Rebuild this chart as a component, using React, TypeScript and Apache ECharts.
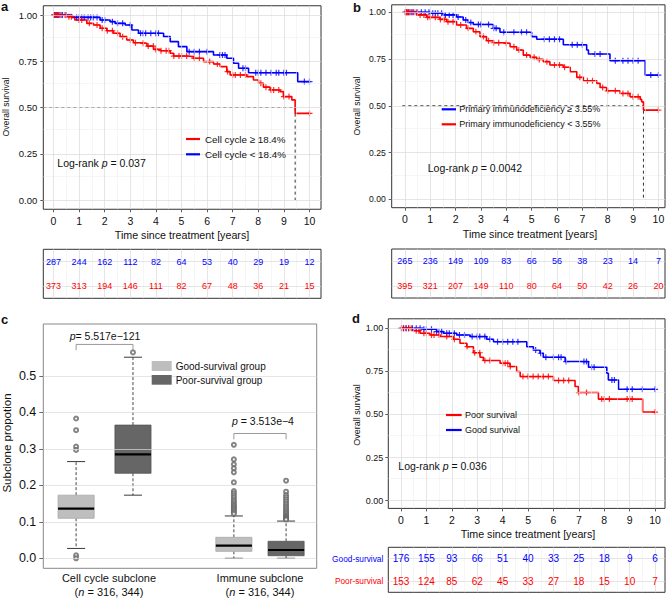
import React, { useEffect, useRef } from "react";
import * as echarts from "echarts";

const FONT = '"Liberation Sans", Arial, Helvetica, sans-serif';
const RED = "#FF0000";
const BLUE = "#0000FF";

// ---------- shared ticks ----------
const years = [0, 1, 2, 3, 4, 5, 6, 7, 8, 9, 10];
const halfYears = [0.5, 1.5, 2.5, 3.5, 4.5, 5.5, 6.5, 7.5, 8.5, 9.5];
const survTicks = [0, 0.25, 0.5, 0.75, 1];
const survMinor = [0.125, 0.375, 0.625, 0.875];

// ---------- panel a ----------
const aRedCurve: [number, number][] = [
  [0, 1], [0.52, 0.991], [0.83, 0.973], [1.3, 0.955], [1.56, 0.946], [1.82, 0.928], [2.08, 0.915],
  [2.34, 0.901], [2.6, 0.883], [2.86, 0.865], [3.12, 0.85], [3.39, 0.847], [3.65, 0.832], [3.91, 0.814],
  [4.17, 0.807], [4.56, 0.793], [4.69, 0.778], [5.21, 0.775], [5.47, 0.766], [5.86, 0.748], [6.25, 0.735],
  [6.51, 0.721], [6.77, 0.694], [6.9, 0.676], [7.55, 0.667], [7.81, 0.649], [8.01, 0.631], [8.2, 0.61],
  [8.46, 0.595], [8.85, 0.586], [8.98, 0.559], [9.31, 0.541], [9.44, 0.468], [10.03, 0.468],
];
const aBlueCurve: [number, number][] = [
  [0, 1], [0.72, 0.987], [1.82, 0.973], [2.21, 0.964], [2.41, 0.955], [2.8, 0.946], [3.06, 0.919],
  [3.32, 0.901], [4.3, 0.883], [4.56, 0.856], [4.88, 0.829], [5.21, 0.802], [6.25, 0.784], [6.77, 0.766],
  [7.03, 0.739], [7.23, 0.712], [7.62, 0.688], [9.54, 0.64], [10.03, 0.64],
];
const aRedCensor = [0.02, 0.06, 0.1, 0.14, 0.2, 0.3, 0.45, 0.6, 0.7, 1.0, 1.1, 1.4, 1.7, 1.9, 2.1, 2.3, 2.5, 2.7, 3.0, 3.2, 3.5, 3.7, 3.9, 4.0, 4.2, 4.4, 4.5, 4.7, 4.9, 5.0, 5.2, 5.5, 5.7, 6.1, 6.4, 6.8, 7.0, 7.1, 7.3, 7.5, 8.1, 8.3, 8.5, 8.6, 8.8, 9.0, 9.2, 10.0];
const aBlueCensor = [0.02, 0.06, 0.1, 0.14, 0.18, 0.25, 0.35, 0.5, 0.9, 1.0, 1.1, 1.2, 1.35, 1.45, 1.55, 1.7, 1.9, 2.0, 2.3, 2.5, 2.7, 3.0, 3.4, 3.5, 3.6, 3.8, 4.0, 4.1, 5.3, 5.5, 5.7, 6.0, 6.5, 6.6, 6.7, 7.4, 7.5, 7.9, 8.0, 8.1, 8.3, 8.5, 8.7, 8.8, 9.0, 9.1, 9.8, 10.0];
const aMedian = 9.44;
const aRiskBlue = [287, 244, 162, 112, 82, 64, 53, 40, 29, 19, 12];
const aRiskRed = [373, 313, 194, 146, 111, 82, 67, 48, 36, 21, 15];
const aLegend = ["Cell cycle \u2265 18.4%", "Cell cycle < 18.4%"];

// ---------- panel b ----------
const bBlueCurve: [number, number][] = [
  [0, 1], [0.99, 0.995], [1.51, 0.986], [2.04, 0.975], [2.3, 0.959], [2.5, 0.945], [2.7, 0.935],
  [3.49, 0.914], [3.75, 0.893], [5.0, 0.87], [5.2, 0.856], [6.25, 0.826], [7.17, 0.798], [7.24, 0.777],
  [8.09, 0.741], [9.48, 0.664], [10.0, 0.664],
];
const bRedCurve: [number, number][] = [
  [0, 1], [0.46, 0.986], [0.86, 0.973], [1.38, 0.962], [1.65, 0.95], [2.04, 0.932], [2.43, 0.914],
  [2.7, 0.896], [2.96, 0.87], [3.22, 0.848], [3.49, 0.837], [3.88, 0.834], [4.15, 0.816], [4.41, 0.798],
  [4.67, 0.771], [4.94, 0.759], [5.2, 0.748], [5.46, 0.736], [5.72, 0.718], [6.25, 0.706], [6.52, 0.682],
  [6.78, 0.652], [7.04, 0.634], [7.57, 0.62], [7.7, 0.598], [7.96, 0.58], [8.49, 0.566], [8.88, 0.548],
  [9.28, 0.534], [9.34, 0.521], [9.41, 0.477], [10.0, 0.477],
];
const bBlueCensor = [0.02, 0.08, 0.15, 0.25, 0.35, 0.5, 0.65, 0.8, 0.95, 1.1, 1.2, 1.3, 1.45, 1.6, 1.75, 1.9, 2.1, 2.4, 2.6, 2.9, 3.0, 3.3, 3.5, 3.6, 3.9, 4.3, 4.6, 4.8, 5.5, 5.7, 5.9, 6.1, 6.6, 6.8, 7.0, 7.5, 7.7, 8.3, 8.6, 8.8, 9.0, 9.2, 9.7, 10.0];
const bRedCensor = [0.02, 0.06, 0.1, 0.15, 0.2, 0.3, 0.45, 0.6, 0.75, 0.9, 1.0, 1.2, 1.4, 1.55, 1.7, 1.9, 2.2, 2.5, 2.8, 3.1, 3.3, 3.5, 3.7, 4.0, 4.3, 4.5, 4.8, 5.1, 5.3, 5.6, 5.9, 6.1, 6.3, 6.9, 7.2, 7.4, 7.8, 8.0, 8.3, 8.6, 8.8, 9.0, 9.2, 10.0];
const bMedian = 9.41;
const bRiskBlue = [265, 236, 149, 109, 83, 66, 56, 38, 23, 14, 7];
const bRiskRed = [395, 321, 207, 149, 110, 80, 64, 50, 42, 26, 20];
const bLegend = ["Primary immunodeficiency \u2265 3.55%", "Primary immunodeficiency < 3.55%"];

// ---------- panel c ----------
const cGroups = ["Cell cycle subclone", "Immune subclone"];
const cGroupN = "316, 344";
const cBoxPos = [1.2, 3.28, 6.97, 8.88];
const cBoxKind = ["good", "poor", "good", "poor"];
// [lower whisker, q1, median, q3, upper whisker]
const cStats = [
  [0.027, 0.1096, 0.136, 0.173, 0.265],
  [0.173, 0.233, 0.285, 0.365, 0.551],
  [0.0, 0.019, 0.0345, 0.0575, 0.116],
  [0.0, 0.007, 0.0227, 0.0466, 0.102],
];
const cOutliers = [
  [0.383, 0.351, 0.306, 0.297, 0.008, 0.0],
  [0.564],
  [0.311, 0.271, 0.2575, 0.2466, 0.2356, 0.208, 0.184, 0.178, 0.172, 0.166, 0.16, 0.155, 0.15, 0.146, 0.142, 0.138, 0.134, 0.13, 0.126, 0.122],
  [0.2126, 0.1825, 0.173, 0.167, 0.161, 0.155, 0.149, 0.143, 0.138, 0.133, 0.128, 0.124, 0.12, 0.116, 0.113, 0.11, 0.108, 0.106],
];
const cTicks = [0, 0.1, 0.2, 0.3, 0.4, 0.5];
const cBracketY = [0.586, 0.342];
const cPValues = ["5.517e\u2212121", "3.513e\u22124"];
const cLegend = ["Good-survival group", "Poor-survival group"];

// ---------- panel d ----------
const dBlueCurve: [number, number][] = [
  [0, 1], [0.88, 0.994], [1.4, 0.981], [1.67, 0.971], [2.19, 0.961], [2.72, 0.952], [3.37, 0.936],
  [3.64, 0.922], [4.95, 0.893], [5.21, 0.874], [5.47, 0.855], [5.6, 0.832], [6.46, 0.807], [7.38, 0.774],
  [8.1, 0.739], [8.16, 0.7], [8.56, 0.646], [10.0, 0.646],
];
const dRedCurve: [number, number][] = [
  [0, 1], [0.49, 0.986], [0.75, 0.971], [1.14, 0.961], [1.54, 0.952], [2.06, 0.936], [2.32, 0.913],
  [2.59, 0.893], [2.85, 0.858], [3.11, 0.832], [3.24, 0.813], [3.9, 0.797], [4.29, 0.778], [4.55, 0.749],
  [4.69, 0.72], [6.0, 0.697], [6.85, 0.662], [6.98, 0.627], [7.77, 0.589], [9.51, 0.514], [10.0, 0.514],
];
const dBlueCensor = [0.02, 0.1, 0.2, 0.3, 0.45, 0.6, 0.75, 0.9, 1.0, 1.2, 1.4, 1.5, 1.6, 1.8, 1.9, 2.1, 2.3, 2.5, 2.8, 3.0, 3.1, 3.3, 3.5, 3.8, 4.0, 4.2, 4.4, 4.6, 5.3, 5.5, 5.7, 6.0, 6.2, 6.3, 6.5, 7.2, 7.3, 7.5, 7.6, 8.3, 8.4, 8.9, 9.1, 9.5, 10.0];
const dRedCensor = [0.02, 0.1, 0.2, 0.3, 0.4, 0.6, 0.7, 0.9, 1.0, 1.2, 1.3, 1.5, 1.8, 2.1, 2.6, 2.9, 3.1, 3.3, 3.5, 4.0, 4.1, 4.2, 4.3, 4.8, 5.0, 5.2, 5.4, 5.6, 5.8, 6.2, 6.4, 6.6, 7.0, 7.3, 7.9, 8.0, 8.2, 8.9, 9.0, 9.1, 10.0];
const dRiskGood = [176, 155, 93, 66, 51, 40, 33, 25, 18, 9, 6];
const dRiskPoor = [153, 124, 85, 62, 45, 33, 27, 18, 15, 10, 7];
const dRows = ["Poor-survival", "Good-survival"];
const dLegend = ["Poor survival", "Good survival"];

const PLUS =
  "path://M-0.5,-2.5L0.5,-2.5L0.5,-0.5L2.5,-0.5L2.5,0.5L0.5,0.5L0.5,2.5L-0.5,2.5L-0.5,0.5L-2.5,0.5L-2.5,-0.5L-0.5,-0.5Z";

function stepAt(curve: [number, number][], t: number) {
  let s = curve[0][1];
  for (const [x, y] of curve) {
    if (x <= t) s = y;
    else break;
  }
  return s;
}

function gridLineSeries(idx: number, xs: number[], xsMinor: number[], ys: any[], ysMinor: number[]) {
  const major = { color: "#dadada", width: 0.7, type: "solid" };
  const minor = { color: "#ededed", width: 0.5, type: "solid" };
  const data: any[] = [];
  xsMinor.forEach((v) => data.push({ xAxis: v, lineStyle: minor }));
  ysMinor.forEach((v) => data.push({ yAxis: v, lineStyle: minor }));
  xs.forEach((v) => data.push({ xAxis: v, lineStyle: major }));
  ys.forEach((v) => data.push({ yAxis: v, lineStyle: major }));
  return {
    type: "line", xAxisIndex: idx, yAxisIndex: idx, data: [], symbol: "none", silent: true, z: 1,
    markLine: { silent: true, symbol: ["none", "none"], label: { show: false }, data },
  };
}

function kmSeries(idx: number, curve: [number, number][], color: string) {
  return {
    type: "line", xAxisIndex: idx, yAxisIndex: idx, step: "end", data: curve, symbol: "none",
    lineStyle: { color, width: 1.6 }, z: 3, silent: true,
  };
}

function censorSeries(idx: number, curve: [number, number][], times: number[], color: string) {
  return {
    type: "scatter", xAxisIndex: idx, yAxisIndex: idx, data: times.map((t) => [t, stepAt(curve, t)]),
    symbol: PLUS, symbolSize: 6, itemStyle: { color }, z: 4, silent: true,
  };
}

function medianSeries(idx: number, x0: number, med: number) {
  return {
    type: "line", xAxisIndex: idx, yAxisIndex: idx, data: [[x0, 0.5], [med, 0.5], [med, 0]], symbol: "none",
    lineStyle: { color: "#333", width: 1, type: [3, 3] }, z: 2, silent: true,
  };
}

function riskSeries(idx: number, row: string, values: number[], color: string, fontSize: number) {
  return {
    type: "scatter", xAxisIndex: idx, yAxisIndex: idx, data: years.map((y, i) => [y, row, values[i]]),
    symbol: "circle", symbolSize: 1, itemStyle: { color: "rgba(255,255,255,0)" }, silent: true, z: 5,
    label: {
      show: true, position: "inside", formatter: (p: any) => String(p.value[2]), color, fontSize, fontFamily: FONT,
      textBorderWidth: 0, textBorderColor: "transparent", opacity: 1,
    },
  };
}

function kmX(gi: number, min: number, max: number, fontSize: number, margin: number) {
  return {
    type: "value", gridIndex: gi, min, max,
    axisLine: { show: false, onZero: false }, splitLine: { show: false },
    axisTick: { show: true, customValues: years, length: 3, lineStyle: { color: "#333", width: 0.8 } },
    axisLabel: { customValues: years, fontSize, color: "#111", margin, fontFamily: FONT, formatter: (v: number) => String(v) },
  };
}
function kmY(gi: number, min: number, max: number, fontSize: number, margin: number) {
  return {
    type: "value", gridIndex: gi, min, max,
    axisLine: { show: false, onZero: false }, splitLine: { show: false },
    axisTick: { show: true, customValues: survTicks, length: 3, lineStyle: { color: "#333", width: 0.8 } },
    axisLabel: { customValues: survTicks, fontSize, color: "#111", margin, fontFamily: FONT, formatter: (v: number) => v.toFixed(2) },
  };
}
function riskX(gi: number, min: number, max: number) {
  return {
    type: "value", gridIndex: gi, min, max,
    axisLine: { show: false, onZero: false }, splitLine: { show: false },
    axisTick: { show: false }, axisLabel: { show: false },
  };
}
function riskY(gi: number, rows: string[], showLabels: boolean) {
  return {
    type: "category", gridIndex: gi, data: rows,
    axisLine: { show: false }, splitLine: { show: false },
    axisTick: { show: true, alignWithLabel: true, length: 3, lineStyle: { color: "#333", width: 0.8 } },
    axisLabel: {
      show: showLabels, margin: 5,
      formatter: (v: string) => (v === "Good-survival" ? `{g|${v}}` : `{p|${v}}`),
      rich: {
        g: { color: BLUE, fontSize: 8.3, fontFamily: FONT },
        p: { color: RED, fontSize: 8.3, fontFamily: FONT },
      },
    },
  };
}

function gridBox(left: number, top: number, width: number, height: number, border = "#333") {
  return {
    left, top, width, height, show: true, borderColor: border, borderWidth: 1, backgroundColor: "#fff",
    containLabel: false, outerBoundsMode: "none",
  };
}

function txt(x: number, y: number, text: string, fontSize: number, o: any = {}) {
  return {
    type: "text", x, y, rotation: o.rotation || 0, z: 100, silent: true,
    style: {
      text, fontSize, fontFamily: FONT, fill: o.fill || "#111", align: o.align || "left",
      verticalAlign: o.va || "middle", fontWeight: o.bold ? "bold" : "normal", rich: o.rich,
    },
  };
}
function seg(x1: number, y1: number, x2: number, y2: number, color: string, w = 2.2) {
  return { type: "line", z: 100, silent: true, shape: { x1, y1, x2, y2 }, style: { stroke: color, lineWidth: w } };
}
const italic = (fs: number) => ({ i: { fontStyle: "italic", fontSize: fs, fontFamily: FONT, fill: "#111", color: "#111" } });

export default function App() {
  const ref = useRef<HTMLDivElement>(null);
  useEffect(() => {
    if (!ref.current) return;
    const chart = echarts.init(ref.current, undefined, { renderer: "svg" });

    const aRange = [-0.4, 10.45];
    const bRange = [-0.52, 10.26];
    const dRange = [-0.5, 10.39];

    const boxWidth = 1.32;
    const capHalf = 0.33;

    const series: any[] = [
      // a
      gridLineSeries(0, years, halfYears, survTicks, survMinor),
      medianSeries(0, aRange[0], aMedian),
      kmSeries(0, aBlueCurve, BLUE),
      kmSeries(0, aRedCurve, RED),
      censorSeries(0, aBlueCurve, aBlueCensor, BLUE),
      censorSeries(0, aRedCurve, aRedCensor, RED),
      gridLineSeries(1, years, halfYears, ["high", "low"], []),
      riskSeries(1, "low", aRiskBlue, BLUE, 9),
      riskSeries(1, "high", aRiskRed, RED, 9),
      // b
      gridLineSeries(2, years, halfYears, survTicks, survMinor),
      medianSeries(2, -0.1, bMedian),
      kmSeries(2, bBlueCurve, BLUE),
      kmSeries(2, bRedCurve, RED),
      censorSeries(2, bBlueCurve, bBlueCensor, BLUE),
      censorSeries(2, bRedCurve, bRedCensor, RED),
      gridLineSeries(3, years, halfYears, ["low", "high"], []),
      riskSeries(3, "high", bRiskBlue, BLUE, 9),
      riskSeries(3, "low", bRiskRed, RED, 9),
      // c
      gridLineSeries(4, [], [], cTicks, []),
      {
        type: "custom", xAxisIndex: 4, yAxisIndex: 4, silent: true, z: 3,
        data: cStats.map((s, i) => [cBoxPos[i], ...s, i]),
        encode: { x: 0, y: [1, 2, 3, 4, 5] },
        renderItem: (params: any, api: any) => {
          const x = api.value(0);
          const i = api.value(6);
          const lo = api.coord([x, api.value(1)]);
          const q1 = api.coord([x, api.value(2)]);
          const med = api.coord([x, api.value(3)]);
          const q3 = api.coord([x, api.value(4)]);
          const hi = api.coord([x, api.value(5)]);
          const hw = api.size([boxWidth, 0])[0] / 2;
          const cw = api.size([capHalf, 0])[0];
          const px = q1[0];
          const good = cBoxKind[i] === "good";
          const dash = { stroke: "#333", lineWidth: 0.9, lineDash: [3, 2] };
          const solid = { stroke: "#222", lineWidth: 0.9 };
          return {
            type: "group",
            children: [
              { type: "line", shape: { x1: px, y1: q3[1], x2: px, y2: hi[1] }, style: dash },
              { type: "line", shape: { x1: px, y1: q1[1], x2: px, y2: lo[1] }, style: dash },
              { type: "line", shape: { x1: px - cw, y1: hi[1], x2: px + cw, y2: hi[1] }, style: solid },
              { type: "line", shape: { x1: px - cw, y1: lo[1], x2: px + cw, y2: lo[1] }, style: solid },
              {
                type: "rect",
                shape: { x: px - hw, y: q3[1], width: 2 * hw, height: q1[1] - q3[1] },
                style: { fill: good ? "#BEBEBE" : "#666666", stroke: good ? "#A8A8A8" : "#555555", lineWidth: 0.8 },
              },
              { type: "line", shape: { x1: px - hw, y1: med[1], x2: px + hw, y2: med[1] }, style: { stroke: "#000", lineWidth: 2.2 } },
            ],
          };
        },
      },
      {
        type: "scatter", xAxisIndex: 4, yAxisIndex: 4, silent: true, z: 4,
        data: cOutliers.flatMap((arr, i) => arr.map((v) => [cBoxPos[i], v])),
        symbol: "emptyCircle", symbolSize: 4, itemStyle: { color: "#666", borderWidth: 0.6 },
      },
      ...cBracketY.map((y, k) => ({
        type: "line", xAxisIndex: 4, yAxisIndex: 4, silent: true, z: 3, symbol: "none",
        data: [[cBoxPos[2 * k], y - 0.016], [cBoxPos[2 * k], y], [cBoxPos[2 * k + 1], y], [cBoxPos[2 * k + 1], y - 0.016]],
        lineStyle: { color: "#999", width: 1 },
      })),
      // d
      gridLineSeries(5, years, halfYears, survTicks, survMinor),
      kmSeries(5, dBlueCurve, BLUE),
      kmSeries(5, dRedCurve, RED),
      censorSeries(5, dBlueCurve, dBlueCensor, BLUE),
      censorSeries(5, dRedCurve, dRedCensor, RED),
      gridLineSeries(6, years, halfYears, dRows, []),
      riskSeries(6, "Good-survival", dRiskGood, BLUE, 10),
      riskSeries(6, "Poor-survival", dRiskPoor, RED, 10),
    ];

    const graphics: any[] = [
      // panel letters
      txt(1, 6, "a", 13, { bold: true }),
      txt(353, 7, "b", 13, { bold: true }),
      txt(1, 319, "c", 13, { bold: true }),
      txt(352, 318, "d", 13, { bold: true }),
      // axis titles
      txt(6, 107, "Overall survival", 8.6, { align: "center", rotation: Math.PI / 2 }),
      txt(357, 106, "Overall survival", 8.6, { align: "center", rotation: Math.PI / 2 }),
      txt(357, 415, "Overall survival", 9, { align: "center", rotation: Math.PI / 2 }),
      txt(7, 443, "Subclone propotion", 11.5, { align: "center", rotation: Math.PI / 2 }),
      txt(182, 235, "Time since treatment [years]", 10.7, { align: "center" }),
      txt(530, 234, "Time since treatment [years]", 10.7, { align: "center" }),
      txt(528, 534, "Time since treatment [years]", 10.7, { align: "center" }),
      // legends a
      seg(186, 139, 200, 139, RED), txt(205, 139, aLegend[0], 9.8),
      seg(186, 154.3, 200, 154.3, BLUE), txt(205, 154.3, aLegend[1], 9.8),
      txt(57.3, 163, "Log-rank {i|p} = 0.037", 10.5, { rich: italic(10.5) }),
      // legends b
      seg(441.7, 109.3, 456, 109.3, BLUE), txt(459.3, 109.3, bLegend[0], 9),
      seg(441.7, 124.3, 456, 124.3, RED), txt(459.3, 124.3, bLegend[1], 9),
      txt(427.7, 168.3, "Log-rank {i|p} = 0.0042", 10.5, { rich: italic(10.5) }),
      // legends d
      seg(446, 415, 461.7, 415, RED), txt(465, 415, dLegend[0], 9),
      seg(446, 430, 461.7, 430, BLUE), txt(465, 430, dLegend[1], 9),
      txt(398.3, 465.7, "Log-rank {i|p} = 0.036", 10.5, { rich: italic(10.5) }),
      // panel c texts
      txt(105, 336, `{i|p}= ${cPValues[0]}`, 10.5, { align: "center", rich: italic(10.5) }),
      txt(263, 420.7, `{i|p} = ${cPValues[1]}`, 10.5, { align: "center", rich: italic(10.5) }),
      { type: "rect", z: 100, silent: true, shape: { x: 151.7, y: 361, width: 20, height: 10 }, style: { fill: "#BEBEBE" } },
      { type: "rect", z: 100, silent: true, shape: { x: 151.7, y: 375, width: 20, height: 9.7 }, style: { fill: "#666666" } },
      txt(175.7, 366, cLegend[0], 10),
      txt(175.7, 380, cLegend[1], 10),
      txt(109, 578, cGroups[0], 11, { align: "center" }),
      txt(109, 592, `({i|n} = ${cGroupN})`, 11, { align: "center", rich: italic(11) }),
      txt(260, 578, cGroups[1], 11, { align: "center" }),
      txt(260, 592, `({i|n} = ${cGroupN})`, 11, { align: "center", rich: italic(11) }),
    ];

    chart.setOption({
      animation: false,
      backgroundColor: "#fff",
      textStyle: { fontFamily: FONT },
      grid: [
        gridBox(43.3, 5.75, 277.7, 203.5),
        gridBox(43.3, 249.3, 277.7, 49),
        gridBox(391.7, 4.8, 273.3, 202.9),
        gridBox(391.7, 249, 273.3, 49),
        gridBox(43.3, 324, 273.4, 244.3, "#888"),
        gridBox(388.3, 318.8, 276.7, 189.6),
        gridBox(388.3, 547.3, 276.7, 45),
      ],
      xAxis: [
        kmX(0, aRange[0], aRange[1], 10.5, 6),
        riskX(1, aRange[0], aRange[1]),
        kmX(2, bRange[0], bRange[1], 10.5, 6),
        riskX(3, bRange[0], bRange[1]),
        {
          type: "value", gridIndex: 4, min: 0, max: 10,
          axisLine: { show: false, onZero: false }, splitLine: { show: false },
          axisTick: { show: false }, axisLabel: { show: false },
        },
        kmX(5, dRange[0], dRange[1], 10.5, 6),
        riskX(6, dRange[0], dRange[1]),
      ],
      yAxis: [
        kmY(0, -0.05, 1.05, 9.5, 6),
        riskY(1, ["high", "low"], false),
        kmY(2, -0.045, 1.04, 8.6, 6),
        riskY(3, ["low", "high"], false),
        {
          type: "value", gridIndex: 4, min: -0.0274, max: 0.642,
          axisLine: { show: false, onZero: false }, splitLine: { show: false },
          axisTick: { show: true, customValues: cTicks, length: 4, lineStyle: { color: "#444", width: 0.8 } },
          axisLabel: { customValues: cTicks, fontSize: 12.5, color: "#111", margin: 7, fontFamily: FONT, formatter: (v: number) => v.toFixed(1) },
        },
        kmY(5, -0.045, 1.055, 9, 5),
        riskY(6, dRows, true),
      ],
      series,
      graphic: { elements: graphics },
    });
    return () => chart.dispose();
  }, []);
  return <div ref={ref} style={{ position: "absolute", left: 0, top: 0, width: 669, height: 598 }} />;
}
